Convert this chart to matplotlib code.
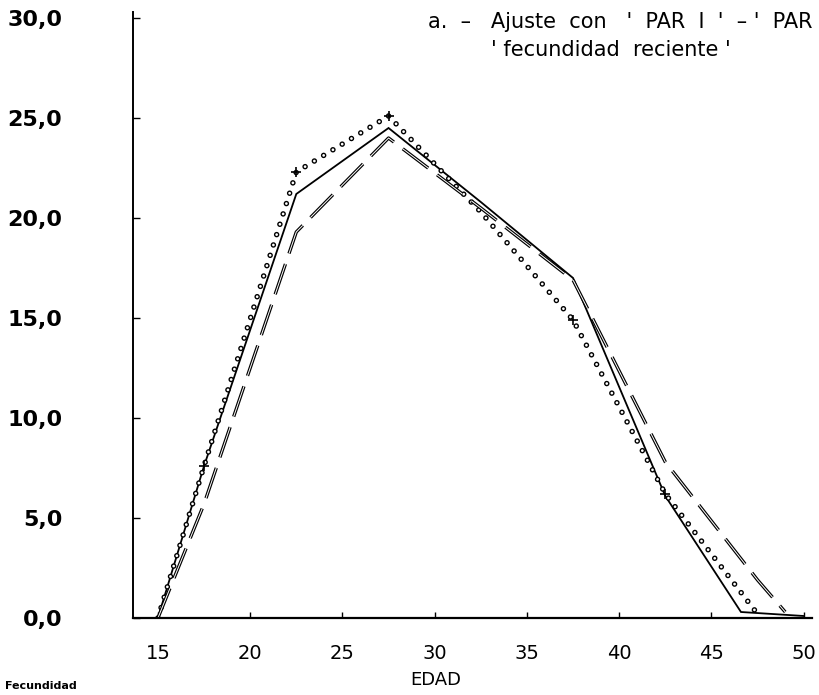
import matplotlib
matplotlib.use("Agg")
import matplotlib.pyplot as plt
from matplotlib.ticker import FixedLocator

plt.rcParams['lines.scale_dashes'] = False
plt.rcParams['font.family'] = ['DejaVu Sans']

# ---- data ----
ages_solid = [15, 17.5, 22.5, 27.5, 32.5, 37.5, 42.5, 46.6, 50]
fec_solid = [0.0, 7.6, 21.2, 24.5, 20.8, 17.0, 6.1, 0.3, 0.1]

ages_dotted = [15, 17.5, 22.5, 27.5, 32.5, 37.5, 42.5, 47.5]
fec_dotted = [0.0, 7.6, 22.3, 25.1, 20.3, 14.9, 6.2, 0.2]

ages_dashed = [15, 17.5, 22.5, 27.5, 32.5, 37.5, 42.5, 47.5, 49.0]
fec_dashed = [0.0, 5.7, 19.3, 24.0, 20.5, 16.9, 7.8, 1.9, 0.3]

cross_ages = [17.5, 22.5, 27.5, 37.5, 42.5]
cross_vals = [7.6, 22.3, 25.1, 14.9, 6.2]

xticks = [15, 20, 25, 30, 35, 40, 45, 50]
yticks = [0, 5, 10, 15, 20, 25, 30]
ytick_labels = ["0,0", "5,0", "10,0", "15,0", "20,0", "25,0", "30,0"]

fig = plt.figure(figsize=(8.19, 6.95), dpi=100)
ax = fig.add_axes([133/819, 77/695, 679/819, 606/695])
ax.set_xlim(13.65, 50.45)
ax.set_ylim(0, 30.3)

# solid
ax.plot(ages_solid, fec_solid, color='black', lw=1.3, solid_joinstyle='miter')
# dotted (hollow dots)
ax.plot(ages_dotted, fec_dotted, color='black', lw=4.0, linestyle=(0, (0.01, 7.8)),
        dash_capstyle='round')
ax.plot(ages_dotted, fec_dotted, color='white', lw=2.0, linestyle=(0, (0.01, 7.8)),
        dash_capstyle='round')
ax.plot(cross_ages, cross_vals, linestyle='none', marker='+', color='black',
        markersize=7, markeredgewidth=1.2)
# dashed (hollow dashes)
ax.plot(ages_dashed, fec_dashed, color='black', lw=2.4, linestyle=(0, (23, 8)),
        dash_capstyle='butt')
ax.plot(ages_dashed, fec_dashed, color='white', lw=0.7, linestyle=(0, (23, 8)),
        dash_capstyle='butt')

for s in ['top', 'right']:
    ax.spines[s].set_visible(False)
ax.spines['left'].set_linewidth(1.4)
ax.spines['bottom'].set_linewidth(1.6)

ax.xaxis.set_major_locator(FixedLocator(xticks))
ax.set_xticklabels([str(t) for t in xticks])
ax.yaxis.set_major_locator(FixedLocator(yticks))
ax.set_yticklabels(ytick_labels, fontweight='bold')
ax.tick_params(axis='y', direction='in', length=5, width=1, pad=51, labelsize=16)
ax.tick_params(axis='x', direction='in', length=4, width=1, pad=19, labelsize=14)

fig.text(436/819, 1 - 680/695, "EDAD", ha='center', va='center', fontsize=13)
fig.text(5/819, 1 - 686/695, "Fecundidad", ha='left', va='center', fontsize=8,
         fontweight='bold')
fig.text(428/819, 1 - 22/695, "a.  \u2013   Ajuste  con   '  PAR  I  '  \u2013 '  PAR",
         ha='left', va='center', fontsize=15)
fig.text(611/819, 1 - 50/695, "' fecundidad  reciente '", ha='center', va='center',
         fontsize=15)

fig.savefig("out.png", dpi=100)
